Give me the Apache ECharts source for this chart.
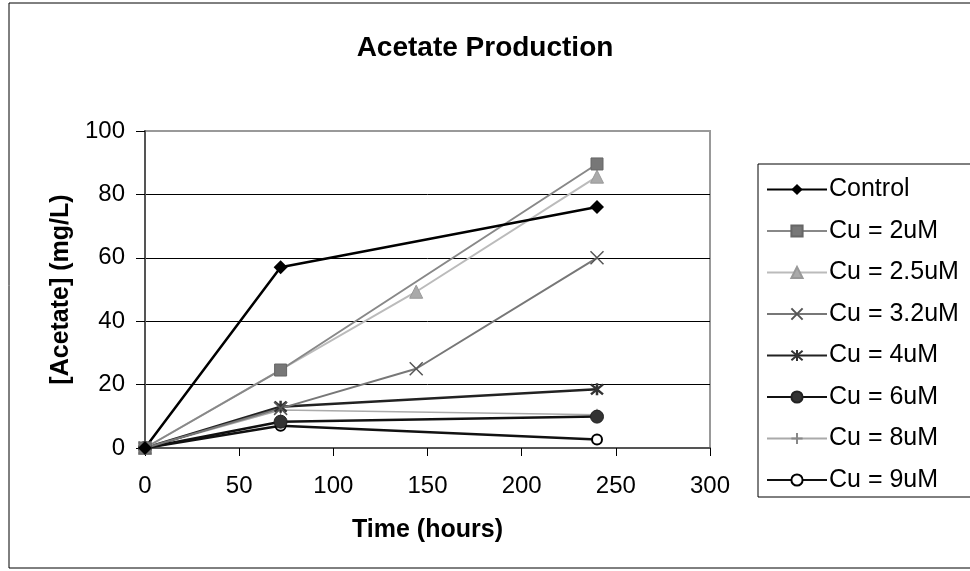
<!DOCTYPE html>
<html>
<head>
<meta charset="utf-8">
<script src="https://cdn.jsdelivr.net/npm/echarts@6/dist/echarts.min.js"></script>
<style>
  html, body { margin: 0; padding: 0; background: #fff; }
  #chart { width: 970px; height: 571px; }
</style>
</head>
<body>
<div id="chart"></div>
<script>
// data
const seriesNames = ['Control', 'Cu = 2uM', 'Cu = 2.5uM', 'Cu = 3.2uM', 'Cu = 4uM', 'Cu = 6uM', 'Cu = 8uM', 'Cu = 9uM']
const control = [[0, 0], [72, 57], [240, 76]]
const cu2 = [[0, 0], [72, 24.6], [240, 89.6]]
const cu25 = [[0, 0], [144, 49.3], [240, 85.6]]
const cu32 = [[0, 0], [72, 12.5], [144, 25], [240, 60]]
const cu4 = [[0, 0], [72, 13], [240, 18.5]]
const cu6 = [[0, 0], [72, 8.3], [240, 9.9]]
const cu8 = [[0, 0], [72, 12], [240, 10.5]]
const cu9 = [[0, 0], [72, 7], [240, 2.7]]

const font = 'Liberation Sans, Arial, sans-serif'
const xMark = 'path://M0,0 L10,10 M10,0 L0,10'
const starMark = 'path://M0,0 L10,10 M10,0 L0,10 M5,-1 L5,11'
const plusMark = 'path://M5,0 L5,10 M3,5 L7,5'

function mk (name, data, lineColor, width, symbol, size, fill, stroke, bw) {
  return {
    name: name,
    type: 'line',
    data: data,
    symbol: symbol,
    symbolSize: size,
    lineStyle: { color: lineColor, width: width },
    itemStyle: { color: fill, borderColor: stroke, borderWidth: bw },
    emphasis: { disabled: true },
    animation: false
  }
}

const chart = echarts.init(document.getElementById('chart'))
const option = {
  backgroundColor: '#fff',
  title: {
    text: 'Acetate Production',
    left: 'center',
    top: 29,
    textStyle: { fontFamily: font, fontSize: 28, fontWeight: 'bold', color: '#000' }
  },
  graphic: [
    { type: 'rect', shape: { x: 9, y: 3, width: 1000, height: 565 }, style: { fill: 'none', stroke: '#000', lineWidth: 1 }, z: -1 },
    { type: 'rect', shape: { x: 758, y: 164, width: 300, height: 333 }, style: { fill: 'none', stroke: '#000', lineWidth: 1 } }
  ],
  legend: {
    orient: 'vertical',
    left: 761,
    top: 172,
    itemWidth: 60,
    itemHeight: 14,
    itemGap: 16.5,
    data: seriesNames,
    textStyle: { fontFamily: font, fontSize: 25, color: '#000', padding: [0, 0, 0, -3] }
  },
  grid: {
    left: 145,
    right: 260,
    top: 131,
    bottom: 123,
    show: true,
    borderColor: '#999',
    borderWidth: 2
  },
  xAxis: {
    type: 'value',
    min: 0,
    max: 300,
    interval: 50,
    name: 'Time (hours)',
    nameLocation: 'middle',
    nameGap: 70,
    nameTextStyle: { fontFamily: font, fontSize: 25, fontWeight: 'bold', color: '#000' },
    axisLine: { show: true, lineStyle: { color: '#555', width: 2 } },
    axisTick: { show: true, length: 8, lineStyle: { color: '#000' } },
    axisLabel: { margin: 26, fontFamily: font, fontSize: 24, color: '#000' },
    splitLine: { show: false }
  },
  yAxis: {
    type: 'value',
    min: 0,
    max: 100,
    interval: 20,
    name: '[Acetate] (mg/L)',
    nameLocation: 'middle',
    nameGap: 71,
    nameTextStyle: { fontFamily: font, fontSize: 25, fontWeight: 'bold', color: '#000' },
    axisLine: { show: true, lineStyle: { color: '#555', width: 2 } },
    axisTick: { show: true, length: 9, lineStyle: { color: '#000' } },
    axisLabel: { margin: 20, fontFamily: font, fontSize: 24, color: '#000' },
    splitLine: { show: true, showMinLine: false, showMaxLine: false, lineStyle: { color: '#000', width: 1 } }
  },
  series: [
    mk('Cu = 8uM', cu8, '#aaa', 1.5, plusMark, [6, 12], 'none', '#888', 1.5),
    mk('Cu = 9uM', cu9, '#111', 2.5, 'circle', 10, '#fff', '#000', 2),
    mk('Cu = 6uM', cu6, '#111', 2.5, 'circle', 13, '#333', '#222', 1),
    mk('Cu = 4uM', cu4, '#222', 2.5, starMark, 12, 'none', '#333', 2.5),
    mk('Cu = 3.2uM', cu32, '#777', 2, xMark, 13, 'none', '#555', 1.5),
    mk('Cu = 2.5uM', cu25, '#bbb', 2, 'triangle', 13, '#aaa', '#999', 1),
    mk('Cu = 2uM', cu2, '#888', 2, 'rect', 12, '#777', '#666', 1),
    mk('Control', control, '#000', 2.5, 'diamond', 14, '#000', '#000', 0)
  ]
}
chart.setOption(option)
</script>
</body>
</html>
